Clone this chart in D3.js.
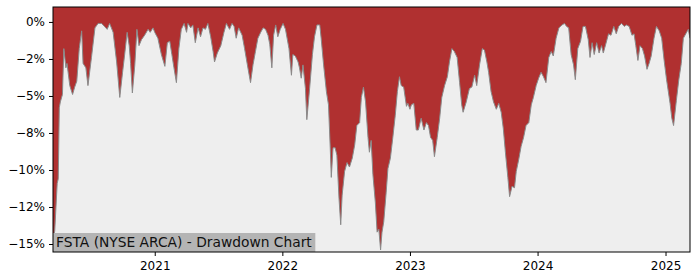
<!DOCTYPE html>
<html><head><meta charset="utf-8">
<script src="https://cdn.jsdelivr.net/npm/d3@7"></script>
<style>body{margin:0;background:#fff}svg{display:block}</style>
</head><body><svg id="c" width="700" height="280"></svg>
<script>
const dates = [
"2020-03-16","2020-03-21","2020-03-28","2020-03-31","2020-04-03","2020-04-06","2020-04-12","2020-04-16","2020-04-22","2020-04-25",
"2020-05-03","2020-05-11","2020-05-17","2020-05-23","2020-05-30","2020-06-06","2020-06-10","2020-06-18","2020-06-24","2020-07-04",
"2020-07-14","2020-07-23","2020-08-02","2020-08-10","2020-08-18","2020-08-25","2020-09-04","2020-09-14","2020-09-23","2020-10-01",
"2020-10-07","2020-10-14","2020-10-20","2020-10-24","2020-10-29","2020-11-05","2020-11-11","2020-11-17","2020-11-24","2020-12-03",
"2020-12-13","2020-12-19","2020-12-27","2021-01-01","2021-01-10","2021-01-20","2021-01-30","2021-02-06","2021-02-13","2021-02-19",
"2021-02-25","2021-03-04","2021-03-11","2021-03-18","2021-03-26","2021-04-02","2021-04-06","2021-04-14","2021-04-20","2021-04-27",
"2021-05-05","2021-05-12","2021-05-19","2021-05-26","2021-06-02","2021-06-10","2021-06-17","2021-06-21","2021-06-29","2021-07-09",
"2021-07-18","2021-07-25","2021-08-03","2021-08-10","2021-08-16","2021-08-22","2021-08-29","2021-09-08","2021-09-15","2021-09-23",
"2021-10-02","2021-10-09","2021-10-16","2021-10-23","2021-10-31","2021-11-07","2021-11-14","2021-11-21","2021-11-26","2021-12-02",
"2021-12-07","2021-12-13","2021-12-19","2021-12-26","2022-01-03","2022-01-10","2022-01-20","2022-01-27","2022-01-31","2022-02-07",
"2022-02-15","2022-02-19","2022-02-24","2022-03-01","2022-03-08","2022-03-12","2022-03-20","2022-03-28","2022-04-03","2022-04-10",
"2022-04-18","2022-04-22","2022-04-29","2022-05-07","2022-05-13","2022-05-18","2022-05-21","2022-05-26","2022-06-01","2022-06-06",
"2022-06-12","2022-06-17","2022-06-21","2022-06-28","2022-07-05","2022-07-12","2022-07-20","2022-07-27","2022-08-02","2022-08-10",
"2022-08-15","2022-08-21","2022-08-27","2022-09-03","2022-09-07","2022-09-12","2022-09-17","2022-09-24","2022-09-29","2022-10-04",
"2022-10-09","2022-10-13","2022-10-18","2022-10-25","2022-10-30","2022-11-06","2022-11-13","2022-11-20","2022-11-26","2022-12-02",
"2022-12-07","2022-12-14","2022-12-22","2022-12-26","2023-01-01","2023-01-05","2023-01-12","2023-01-19","2023-01-25","2023-02-02",
"2023-02-10","2023-02-17","2023-02-23","2023-03-01","2023-03-07","2023-03-12","2023-03-20","2023-03-27","2023-04-02","2023-04-10",
"2023-04-18","2023-04-24","2023-05-01","2023-05-08","2023-05-16","2023-05-23","2023-05-29","2023-06-02","2023-06-11","2023-06-20",
"2023-06-27","2023-07-05","2023-07-11","2023-07-19","2023-07-27","2023-08-02","2023-08-09","2023-08-14","2023-08-21","2023-08-28",
"2023-09-05","2023-09-12","2023-09-19","2023-09-25","2023-10-01","2023-10-08","2023-10-13","2023-10-20","2023-10-27","2023-11-01",
"2023-11-08","2023-11-15","2023-11-22","2023-11-29","2023-12-07","2023-12-14","2023-12-20","2023-12-28","2024-01-04","2024-01-11",
"2024-01-18","2024-01-25","2024-02-02","2024-02-09","2024-02-15","2024-02-23","2024-03-02","2024-03-11","2024-03-18","2024-03-24",
"2024-03-30","2024-04-06","2024-04-13","2024-04-18","2024-04-25","2024-05-03","2024-05-10","2024-05-17","2024-05-25","2024-05-30",
"2024-06-05","2024-06-11","2024-06-18","2024-06-25","2024-07-02","2024-07-07","2024-07-14","2024-07-22","2024-07-29","2024-08-06",
"2024-08-13","2024-08-20","2024-08-28","2024-09-05","2024-09-11","2024-09-19","2024-09-27","2024-10-03","2024-10-08","2024-10-14",
"2024-10-20","2024-10-27","2024-11-02","2024-11-09","2024-11-15","2024-11-21","2024-11-29","2024-12-06","2024-12-14","2024-12-21",
"2024-12-28","2025-01-04","2025-01-14","2025-01-19","2025-01-24","2025-02-01","2025-02-08","2025-02-15","2025-02-21","2025-02-28",
"2025-03-07","2025-03-12"
];
const drawdown = [
-14.9,-14.1,-10.9,-10.6,-5.8,-5.4,-4.9,-1.8,-3.1,-2.8,
-4.3,-4.9,-4.4,-4.0,-1.8,-0.6,-2.8,-3.1,-4.3,-2.4,
-0.4,-0.1,-0.1,-0.3,-0.5,-0.1,-0.7,-2.7,-5.1,-3.4,
-2.2,-0.7,-1.6,-2.8,-4.8,-2.9,-0.5,-1.6,-1.2,-0.9,
-0.5,-0.7,-0.4,-0.7,-1.1,-2.2,-3.0,-1.4,-1.3,-2.2,
-3.1,-4.1,-1.8,-0.5,-0.1,-0.7,-0.1,-0.4,-0.2,-1.4,
-0.4,-1.0,-0.4,-0.5,-0.1,-1.0,-2.0,-2.7,-2.1,-1.6,
-0.7,-0.1,-0.5,-0.1,-0.3,-1.1,-0.4,-0.9,-1.8,-2.9,
-4.1,-2.9,-2.0,-1.1,-0.7,-0.4,-0.5,-0.9,-1.5,-3.1,
-0.9,-0.2,-1.0,-0.5,-0.1,-0.5,-1.8,-3.6,-2.2,-2.3,
-2.7,-3.1,-3.8,-2.9,-4.5,-6.6,-4.5,-2.2,-1.0,-0.2,
-0.2,-1.1,-2.9,-4.7,-5.6,-8.5,-10.5,-8.5,-8.5,-9.0,
-11.9,-13.7,-11.7,-10.1,-9.5,-9.8,-9.2,-8.3,-7.0,-6.8,
-5.1,-4.4,-5.4,-7.8,-8.8,-8.0,-10.3,-12.2,-14.2,-14.0,
-15.4,-14.2,-13.5,-11.5,-9.9,-9.2,-7.8,-6.3,-4.7,-3.7,
-4.3,-4.4,-5.7,-5.5,-5.9,-5.6,-5.5,-7.3,-7.3,-6.5,
-7.3,-6.8,-7.0,-7.8,-8.0,-9.1,-7.8,-6.5,-5.1,-4.3,
-3.7,-2.7,-1.8,-2.0,-2.4,-4.1,-5.6,-6.1,-5.4,-4.5,
-4.4,-3.6,-4.3,-2.9,-1.8,-1.9,-2.7,-3.4,-4.7,-5.4,
-5.9,-5.5,-6.1,-7.2,-8.8,-10.5,-11.8,-11.1,-11.2,-10.1,
-9.3,-8.4,-7.8,-7.0,-6.8,-5.6,-5.1,-4.3,-3.8,-3.4,
-3.7,-4.1,-2.4,-2.0,-2.3,-1.1,-0.4,-0.2,-0.1,-0.3,
-0.4,-2.2,-2.9,-3.9,-1.8,-1.3,-0.3,-0.3,-1.2,-2.4,
-1.4,-2.2,-1.4,-2.1,-1.6,-2.1,-1.5,-0.8,-0.9,-0.3,
-0.8,-0.3,-0.1,-0.3,-0.2,-0.3,-0.9,-0.8,-1.6,-2.6,
-1.6,-1.8,-2.3,-3.2,-2.8,-2.3,-1.1,-0.3,-0.6,-1.1,
-2.6,-3.9,-5.5,-6.5,-7.0,-5.3,-3.9,-2.8,-1.1,-0.8,
-0.5,-1.1
];
const yTicks = [0, -2.5, -5, -7.5, -10, -12.5, -15];
const yTickLabels = ["0%", "−2%", "−5%", "−8%", "−10%", "−12%", "−15%"];
const xTickDates = ["2021-01-01", "2022-01-01", "2023-01-01", "2024-01-01", "2025-01-01"];
const xTickLabels = ["2021", "2022", "2023", "2024", "2025"];
const titleText = "FSTA (NYSE ARCA) - Drawdown Chart";
const xDomain = ["2020-03-16", "2025-03-12"];
const yDomain = [-15.54, 1.01];

const parse = d3.timeParse("%Y-%m-%d");
const data = dates.map((d, i) => ({ date: parse(d), v: drawdown[i] }));

const W = 700, H = 280;
const m = { left: 53, right: 10, top: 7, bottom: 28 };
const svg = d3.select("#c");

const x = d3.scaleTime().domain(xDomain.map(parse)).range([m.left, W - m.right]);
const y = d3.scaleLinear().domain(yDomain).range([H - m.bottom, m.top]);

svg.append("defs").append("clipPath").attr("id", "clip")
  .append("rect").attr("x", m.left).attr("y", m.top)
  .attr("width", W - m.right - m.left).attr("height", H - m.bottom - m.top);

svg.append("rect").attr("x", m.left).attr("y", m.top)
  .attr("width", W - m.right - m.left).attr("height", H - m.bottom - m.top)
  .attr("fill", "#eeeeee");

const g = svg.append("g").attr("clip-path", "url(#clip)");

g.append("path").datum(data)
  .attr("fill", "#b03030")
  .attr("d", d3.area().x(d => x(d.date)).y0(y(yDomain[1])).y1(d => y(d.v)));

g.append("path").datum(data)
  .attr("fill", "none").attr("stroke", "#8a8a8a").attr("stroke-width", 1)
  .attr("d", d3.line().x(d => x(d.date)).y(d => y(d.v)));

// Y axis
const yAxis = svg.append("g").attr("transform", `translate(${m.left},0)`)
  .call(d3.axisLeft(y).tickValues(yTicks).tickSize(4).tickPadding(4)
    .tickFormat((d, i) => yTickLabels[i]));
yAxis.select(".domain").remove();
yAxis.selectAll("text").attr("font-family", "DejaVu Sans").attr("font-size", 12).attr("fill", "#000");
yAxis.selectAll("line").attr("stroke", "#000");

// X axis
const xAxis = svg.append("g").attr("transform", `translate(0,${H - m.bottom})`)
  .call(d3.axisBottom(x).tickValues(xTickDates.map(parse)).tickSize(4).tickPadding(5)
    .tickFormat((d, i) => xTickLabels[i]));
xAxis.select(".domain").remove();
xAxis.selectAll("text").attr("font-family", "DejaVu Sans").attr("font-size", 12).attr("fill", "#000");
xAxis.selectAll("line").attr("stroke", "#000");

// Title box
const tx = m.left, tb = H - m.bottom;
const tg = svg.append("g").attr("clip-path", "url(#clip)");
const t = tg.append("text").attr("x", tx + 3).attr("y", tb - 5)
  .attr("font-family", "DejaVu Sans").attr("font-size", 13.8).attr("fill", "#111")
  .text(titleText);
const bb = t.node().getBBox();
tg.insert("rect", ":first-child")
  .attr("x", tx).attr("y", bb.y - 1).attr("width", bb.width + 6).attr("height", tb - bb.y + 1)
  .attr("fill", "#b4b4b4");

// Frame
svg.append("rect").attr("x", m.left).attr("y", m.top)
  .attr("width", W - m.right - m.left).attr("height", H - m.bottom - m.top)
  .attr("fill", "none").attr("stroke", "#000").attr("stroke-width", 1);
</script></body></html>
